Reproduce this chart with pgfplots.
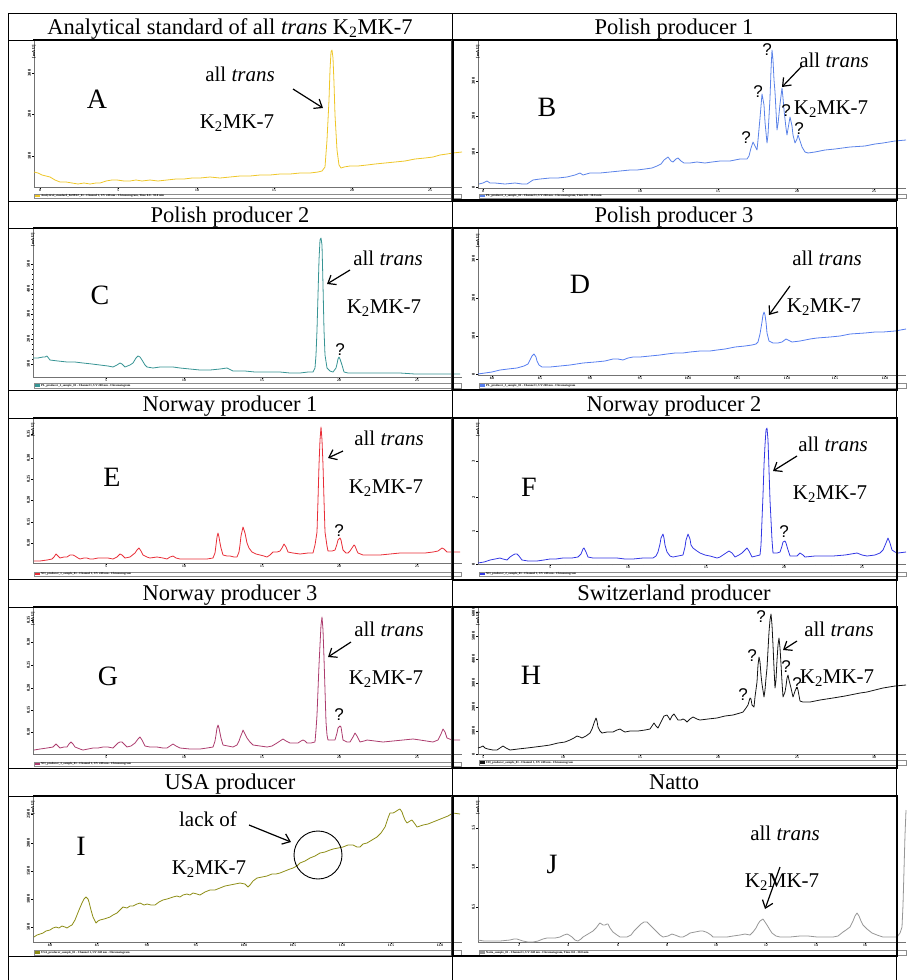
\documentclass[border=0pt]{standalone}
\usepackage{fontspec}
\setmainfont{Liberation Serif}
\setsansfont{Liberation Sans}
\usepackage{pgfplots}
\pgfplotsset{compat=1.18}
\usetikzlibrary{arrows.meta}

\definecolor{cA}{RGB}{238,198,40}
\definecolor{cB}{RGB}{90,130,232}
\definecolor{cC}{RGB}{55,148,148}
\definecolor{cD}{RGB}{85,125,240}
\definecolor{cE}{RGB}{232,45,55}
\definecolor{cF}{RGB}{50,55,228}
\definecolor{cG}{RGB}{172,60,110}
\definecolor{cH}{RGB}{20,20,20}
\definecolor{cI}{RGB}{140,140,20}
\definecolor{cJ}{RGB}{150,150,150}

\newcommand{\tickfont}{\fontsize{4.4}{4.4}\selectfont\bfseries}
\newcommand{\xtickfont}{\fontsize{3.6}{3.6}\selectfont\bfseries}
\newcommand{\stripfont}{\fontsize{3}{3}\selectfont\bfseries}
\newcommand{\ann}{\fontsize{21}{21}\selectfont}
\newcommand{\lett}{\fontsize{28}{28}\selectfont}
\newcommand{\ttl}{\fontsize{22.5}{22.5}\selectfont}
\newcommand{\qm}{\fontsize{17}{17}\selectfont\sffamily}
\newcommand{\kmk}{K\textsubscript{2}MK-7}

\pgfplotsset{
  chrom/.style={scale only axis, anchor=south west, clip=false, y dir=reverse,
    axis x line*=bottom, axis y line*=left,
    axis line style={black!55, line width=0.5pt, -},
    tick align=outside, major tick length=2pt, minor tick length=1.2pt,
    every tick/.style={black, line width=0.6pt},
    minor x tick num=4, minor y tick num=4,
    xticklabel style={font=\xtickfont, inner sep=0.3pt},
    yticklabel style={font=\tickfont, rotate=90, anchor=south, inner sep=0.8pt}},
  trace/.style={line width=0.8pt, color=#1, no markers, line join=round}
}
\tikzset{ar/.style={-{Straight Barb[length=7pt,width=11pt]}, line width=1.2pt},
  mau/.style={font=\tickfont, rotate=90, anchor=east, inner sep=0pt, xshift=-4pt}}

\begin{document}
\begin{tikzpicture}
\useasboundingbox (0pt,0pt) rectangle (906pt,-980pt);

% ---------------- A
\begin{axis}[chrom, at={(34pt,-187pt)}, width=428pt, height=147pt,
  xmin=34, xmax=462, ymin=40, ymax=187,
  xtick={40,118,197,274,352,430}, xticklabels={0,5,10,15,20,25},
  ytick={73,114,156}, yticklabels={300,200,100}]
\addplot[trace=cA] coordinates {(34,172)(38,173)(42,175)(46,176)(50,177)(55,180)(60,182)(66,182)(72,183)(78,184)(84,183)(90,184)(96,183)(100,183)(106,181)(112,180)(117,180)(124,181)(130,181)(136,180)(142,181)(150,180)(158,181)(167,180)(176,179)(184,179)(192,178)(200,178)(210,177)(220,178)(230,177)(240,176)(250,176)(260,175)(270,175)(280,174)(290,174)(300,173)(310,173)(318,172)(322,171)(325,167)(327,140)(329,100)(330,70)(331,52)(332,50)(333,58)(334,83)(335,115)(337,150)(339,165)(341,168)(344,167)(350,166)(358,166)(367,165)(375,164)(385,163)(395,162)(405,161)(415,159)(425,158)(433,157)(440,155)(447,154)(453,153)(462,152)};
\node[mau] at (axis cs:34,41) {[mAU]};
\node[font=\lett, anchor=base] at (axis cs:97,108) {A};
\node[font=\ann, anchor=base] at (axis cs:240,81.5) {all \textit{trans}};
\node[font=\ann, anchor=base] at (axis cs:237,128) {\kmk};
\draw[ar] (axis cs:293,89) -- (axis cs:323,108);
\end{axis}

% ---------------- B
\begin{axis}[chrom, at={(478pt,-188pt)}, width=428pt, height=148pt,
  xmin=478, xmax=906, ymin=40, ymax=188,
  xtick={483,563,640,718,797,874}, xticklabels={0,5,10,15,20,25},
  ytick={81,116,152,187}, yticklabels={300,200,100,0}]
\addplot[trace=cB] coordinates {(479,184)(483,183)(487,181)(490,183)(495,183)(505,184)(515,183)(522,184)(527,184)(533,180)(540,179)(550,178)(558,178)(567,177)(575,175)(580,173)(583,175)(590,173)(600,173)(610,172)(620,171)(630,170)(637,170)(645,169)(652,168)(657,166)(661,164)(664,160)(668,157)(671,161)(673,162)(676,159)(678,158)(681,161)(684,163)(690,163)(697,162)(705,163)(712,162)(720,161)(730,161)(740,159)(747,159)(749,156)(751,148)(753,142)(755,146)(757,150)(758,140)(760,118)(762,94)(764,105)(765,122)(767,143)(768,135)(770,98)(771,70)(772,50)(773,60)(774,80)(775,92)(777,130)(778,124)(780,104)(782,88)(783,98)(784,110)(786,128)(787,135)(789,123)(790,117)(792,126)(793,135)(795,143)(797,139)(798,135)(800,141)(802,147)(805,152)(808,153)(815,152)(825,150)(835,149)(850,147)(865,146)(875,144)(883,143)(895,141)(906,140)};
\node[mau] at (axis cs:478,41) {[mAU]};
\node[font=\lett, anchor=base] at (axis cs:547,116) {B};
\node[font=\ann, anchor=base] at (axis cs:834,67.5) {all \textit{trans}};
\node[font=\ann, anchor=base] at (axis cs:831,114) {\kmk};
\draw[ar] (axis cs:802,66) -- (axis cs:782,87);
\node[font=\qm] at (axis cs:746,138) {?};
\node[font=\qm] at (axis cs:758,92) {?};
\node[font=\qm] at (axis cs:767,50) {?};
\node[font=\qm] at (axis cs:786,111) {?};
\node[font=\qm] at (axis cs:799,129) {?};
\end{axis}

% ---------------- C
\begin{axis}[chrom, at={(33pt,-377pt)}, width=429pt, height=149pt,
  xmin=33, xmax=462, ymin=228, ymax=377,
  xtick={106,184,262,339,417}, xticklabels={5,10,15,20,25},
  ytick={264,289,314,339,364}, yticklabels={500,400,300,200,100}]
\addplot[trace=cC] coordinates {(33,358)(38,358)(43,357)(45,357)(47,356)(50,360)(58,361)(67,362)(75,362)(83,363)(92,364)(100,365)(108,366)(113,367)(117,365)(120,363)(122,364)(125,367)(130,365)(133,363)(136,358)(138,356)(140,357)(142,360)(145,365)(147,367)(153,368)(160,367)(167,367)(173,367)(180,368)(190,369)(200,370)(210,370)(220,369)(227,368)(233,371)(245,371)(255,372)(267,372)(280,372)(290,373)(300,373)(308,372)(313,372)(315,368)(316,355)(317,330)(318,295)(319,260)(320,240)(321,238)(322,245)(323,285)(324,330)(325,355)(327,368)(330,371)(333,372)(336,368)(337,364)(338,359)(339,357)(340,359)(342,365)(344,372)(348,373)(360,373)(375,373)(390,373)(400,373)(415,374)(430,374)(445,374)(460,374)};
\node[mau] at (axis cs:33,229) {[mAU]};
\node[font=\lett, anchor=base] at (axis cs:100,304) {C};
\node[font=\ann, anchor=base] at (axis cs:388,265.5) {all \textit{trans}};
\node[font=\ann, anchor=base] at (axis cs:384,313) {\kmk};
\draw[ar] (axis cs:350,270) -- (axis cs:327,284);
\node[font=\qm] at (axis cs:340,350) {?};
\end{axis}

% ---------------- D
\begin{axis}[chrom, at={(478pt,-375pt)}, width=428pt, height=146pt,
  xmin=478, xmax=906, ymin=229, ymax=375,
  xtick={492,540,590,640,688,737,787,835,885}, xticklabels={8.0,8.5,9.0,9.5,10.0,10.5,11.0,11.5,12.0},
  ytick={259,298,336,374}, yticklabels={300,200,100,0}]
\addplot[trace=cD] coordinates {(478,374)(485,373)(492,372)(500,370)(508,369)(517,368)(524,366)(528,364)(530,360)(532,356)(534,354)(536,357)(537,361)(539,365)(542,367)(550,367)(560,366)(570,365)(583,363)(595,362)(605,361)(613,359)(618,359)(623,360)(628,358)(633,357)(640,357)(650,356)(660,355)(667,354)(675,353)(683,353)(690,352)(700,351)(710,351)(717,350)(725,349)(735,347)(745,346)(752,345)(756,344)(758,342)(760,334)(762,322)(763,315)(764,312)(765,315)(766,322)(767,333)(769,341)(773,343)(778,343)(782,342)(786,339)(788,340)(792,342)(800,341)(810,339)(817,338)(830,337)(840,336)(850,334)(865,333)(875,332)(883,332)(895,331)(906,329)};
\node[mau] at (axis cs:478,230) {[mAU]};
\node[font=\lett, anchor=base] at (axis cs:580,293) {D};
\node[font=\ann, anchor=base] at (axis cs:827,265.5) {all \textit{trans}};
\node[font=\ann, anchor=base] at (axis cs:824,312) {\kmk};
\draw[ar] (axis cs:790,286) -- (axis cs:769,315);
\end{axis}

% ---------------- E
\begin{axis}[chrom, at={(33pt,-563pt)}, width=429pt, height=145pt,
  xmin=33, xmax=462, ymin=418, ymax=563,
  xtick={106,184,262,339,417}, xticklabels={5,10,15,20,25},
  ytick={434,458,479,500,522,543}, yticklabels={0.35,0.30,0.25,0.20,0.15,0.10}]
\addplot[trace=cE] coordinates {(34,561)(40,561)(47,560)(52,559)(54,557)(56,554)(58,556)(60,558)(64,557)(67,557)(70,555)(73,555)(75,556)(78,558)(80,559)(84,558)(87,558)(90,559)(93,559)(98,558)(103,558)(108,558)(113,559)(117,557)(120,554)(122,555)(125,558)(130,557)(135,553)(137,550)(139,548)(141,551)(143,555)(147,557)(150,558)(157,557)(163,558)(167,559)(170,557)(173,556)(176,558)(180,559)(190,559)(200,559)(207,559)(213,558)(215,553)(216,545)(217,537)(218,533)(219,537)(220,543)(221,548)(223,555)(227,556)(230,556)(234,557)(237,557)(239,552)(240,545)(241,536)(243,527)(245,533)(247,543)(249,548)(252,552)(256,554)(260,555)(264,556)(267,557)(270,555)(273,552)(277,552)(280,551)(282,548)(284,544)(286,547)(288,552)(293,553)(300,554)(308,553)(313,553)(315,545)(317,532)(318,500)(319,465)(320,440)(321,427)(322,440)(323,465)(324,500)(325,532)(327,546)(328,551)(332,551)(335,550)(337,544)(338,540)(340,538)(341,540)(343,550)(346,553)(348,553)(350,551)(352,548)(354,545)(355,546)(357,551)(358,553)(363,555)(367,555)(380,555)(390,554)(400,553)(415,553)(425,553)(433,552)(438,551)(442,548)(444,549)(447,552)(453,552)(460,552)};
\node[mau] at (axis cs:33,419) {[mAU]};
\node[font=\lett, anchor=base] at (axis cs:112,486.5) {E};
\node[font=\ann, anchor=base] at (axis cs:389,445.5) {all \textit{trans}};
\node[font=\ann, anchor=base] at (axis cs:386,493) {\kmk};
\draw[ar] (axis cs:343,451) -- (axis cs:328,458);
\node[font=\qm] at (axis cs:339,531) {?};
\end{axis}

% ---------------- F
\begin{axis}[chrom, at={(478pt,-564pt)}, width=428pt, height=146pt,
  xmin=478, xmax=906, ymin=418, ymax=564,
  xtick={550,628,706,784,862}, xticklabels={5,10,15,20,25},
  ytick={461,497,531,564}, yticklabels={3,2,1,0}]
\addplot[trace=cF] coordinates {(478,563)(484,562)(490,560)(495,559)(500,558)(503,559)(507,560)(510,557)(513,555)(515,554)(517,554)(519,556)(522,560)(528,561)(537,561)(544,560)(550,559)(556,559)(563,558)(567,558)(572,558)(578,557)(581,554)(583,549)(584,548)(586,552)(588,557)(593,558)(600,558)(608,558)(617,558)(625,559)(633,559)(643,558)(653,558)(656,556)(658,552)(660,544)(661,538)(663,534)(664,538)(665,545)(667,552)(670,556)(673,557)(678,556)(683,555)(685,547)(686,540)(688,534)(690,539)(691,545)(693,548)(697,551)(700,553)(705,555)(710,556)(717,558)(720,557)(723,555)(726,553)(729,551)(732,553)(735,557)(739,555)(742,553)(745,550)(747,548)(749,551)(752,557)(756,556)(760,555)(761,545)(762,520)(763,495)(764,465)(765,445)(766,430)(767,428)(768,440)(769,470)(770,500)(771,520)(772,540)(773,553)(777,553)(780,552)(782,546)(783,542)(785,541)(786,543)(788,550)(790,556)(795,556)(797,556)(800,553)(803,555)(805,557)(815,556)(825,556)(833,556)(845,555)(857,553)(862,555)(867,556)(875,555)(880,553)(883,550)(886,543)(888,538)(890,543)(892,550)(895,552)(898,553)(906,552)};
\node[mau] at (axis cs:478,419) {[mAU]};
\node[font=\lett, anchor=base] at (axis cs:529,496.5) {F};
\node[font=\ann, anchor=base] at (axis cs:833,451) {all \textit{trans}};
\node[font=\ann, anchor=base] at (axis cs:830,499) {\kmk};
\draw[ar] (axis cs:797,456) -- (axis cs:773,471);
\node[font=\qm] at (axis cs:784,532) {?};
\end{axis}

% ---------------- G
\begin{axis}[chrom, at={(33pt,-754pt)}, width=429pt, height=147pt,
  xmin=33, xmax=462, ymin=607, ymax=754,
  xtick={106,184,262,339,417}, xticklabels={5,10,15,20,25},
  ytick={620,642,665,688,710,732}, yticklabels={0.35,0.30,0.25,0.20,0.15,0.10}]
\addplot[trace=cG] coordinates {(34,750)(40,749)(47,748)(53,747)(55,745)(56,744)(58,746)(60,748)(64,747)(67,747)(69,744)(71,742)(73,744)(75,747)(80,749)(83,750)(88,749)(93,748)(98,748)(103,747)(108,747)(113,748)(116,745)(118,743)(120,742)(122,742)(125,745)(127,747)(131,746)(135,743)(138,739)(140,737)(142,740)(145,746)(150,747)(157,747)(163,748)(167,748)(170,746)(173,744)(176,746)(180,748)(190,749)(200,749)(207,748)(213,747)(215,741)(216,735)(217,728)(218,725)(219,728)(220,733)(221,738)(223,745)(228,746)(233,747)(237,745)(239,741)(240,738)(242,733)(243,730)(245,734)(247,738)(250,742)(253,745)(260,746)(267,747)(272,746)(277,743)(280,741)(283,739)(286,741)(290,743)(295,743)(298,743)(301,741)(303,740)(305,741)(307,743)(311,743)(315,742)(316,730)(317,715)(318,690)(319,665)(320,645)(321,625)(322,617)(323,630)(324,658)(325,690)(326,722)(327,735)(328,740)(332,740)(335,740)(337,733)(338,728)(340,726)(341,727)(343,740)(347,742)(350,742)(353,737)(355,733)(357,736)(360,742)(364,741)(367,740)(375,741)(383,742)(393,741)(403,740)(413,739)(420,740)(433,742)(438,740)(441,734)(443,729)(445,732)(447,738)(452,740)(460,740)};
\node[mau] at (axis cs:33,608) {[mAU]};
\node[font=\lett, anchor=base] at (axis cs:108,685) {G};
\node[font=\ann, anchor=base] at (axis cs:389,636.5) {all \textit{trans}};
\node[font=\ann, anchor=base] at (axis cs:386,684) {\kmk};
\draw[ar] (axis cs:351,642) -- (axis cs:328,657);
\node[font=\qm] at (axis cs:339,715) {?};
\end{axis}

% ---------------- H
\begin{axis}[chrom, at={(478pt,-754pt)}, width=428pt, height=147pt,
  xmin=478, xmax=906, ymin=607, ymax=754,
  xtick={483,563,640,718,797,874}, xticklabels={5,10,15,20,25,30},
  ytick={612,636,659,683,707,731,754}, yticklabels={6000,5000,4000,3000,2000,1000,0}]
\addplot[trace=cH] coordinates {(478,748)(481,747)(483,746)(485,748)(488,749)(493,750)(497,750)(500,748)(503,746)(506,748)(510,750)(518,749)(527,748)(535,747)(543,746)(550,745)(558,743)(565,742)(570,740)(574,738)(577,736)(580,737)(582,738)(586,736)(590,733)(592,729)(594,723)(596,718)(597,721)(598,727)(600,731)(602,733)(607,732)(613,732)(617,730)(620,729)(623,731)(625,732)(630,731)(638,731)(645,730)(650,729)(652,726)(654,723)(656,726)(658,728)(660,724)(662,720)(664,716)(667,715)(669,718)(670,720)(672,716)(674,714)(676,717)(678,720)(681,720)(683,719)(685,720)(687,722)(690,719)(693,717)(697,719)(700,720)(708,719)(717,718)(725,716)(733,715)(740,713)(743,712)(746,708)(748,705)(750,698)(751,699)(752,705)(754,707)(755,697)(757,682)(758,665)(759,657)(760,662)(761,675)(762,684)(764,697)(765,690)(766,678)(767,668)(768,650)(769,632)(770,620)(771,614)(772,625)(773,645)(774,668)(775,688)(776,680)(777,660)(778,645)(779,638)(780,648)(781,664)(782,682)(783,697)(785,692)(786,686)(787,678)(788,675)(789,680)(791,688)(793,697)(795,691)(797,687)(798,690)(800,701)(803,702)(810,702)(820,700)(833,698)(845,696)(850,695)(860,693)(867,692)(875,690)(883,688)(895,686)(906,685)};
\node[mau] at (axis cs:478,608) {[mAU]};
\node[font=\lett, anchor=base] at (axis cs:531,684) {H};
\node[font=\ann, anchor=base] at (axis cs:839,636.5) {all \textit{trans}};
\node[font=\ann, anchor=base] at (axis cs:837,683) {\kmk};
\draw[ar] (axis cs:797,641) -- (axis cs:783,650);
\node[font=\qm] at (axis cs:743,695) {?};
\node[font=\qm] at (axis cs:752,656) {?};
\node[font=\qm] at (axis cs:761,617) {?};
\node[font=\qm] at (axis cs:786,667) {?};
\node[font=\qm] at (axis cs:797,684) {?};
\end{axis}

% ---------------- I
\begin{axis}[chrom, at={(33pt,-942pt)}, width=429pt, height=146pt,
  xmin=33, xmax=462, ymin=796, ymax=942,
  xtick={50,97,147,196,244,293,342,391,440}, xticklabels={8.0,8.5,9.0,9.5,10.0,10.5,11.0,11.5,12.0},
  ytick={814,843,871,899,927}, yticklabels={2500,2000,1500,1000,500}]
\addplot[trace=cI] coordinates {(34,937)(37,935)(40,934)(43,933)(46,931)(50,930)(53,928)(56,927)(59,928)(62,926)(65,927)(67,928)(70,926)(72,925)(75,920)(77,915)(79,910)(82,903)(84,899)(86,897)(88,899)(89,902)(91,910)(93,917)(95,921)(96,923)(98,921)(100,920)(104,919)(107,918)(110,917)(113,915)(117,913)(120,910)(123,907)(127,908)(130,906)(133,906)(137,904)(140,903)(144,905)(147,904)(151,905)(155,905)(159,902)(163,900)(167,899)(170,898)(173,897)(177,896)(180,897)(183,895)(187,894)(190,895)(193,893)(197,894)(200,895)(205,892)(210,890)(215,890)(220,888)(225,886)(230,885)(235,884)(240,883)(245,884)(248,887)(250,885)(253,881)(257,878)(262,877)(267,876)(272,874)(276,874)(280,873)(285,871)(290,869)(293,868)(297,866)(300,863)(305,861)(310,858)(315,856)(320,853)(325,852)(330,850)(333,849)(338,848)(343,847)(348,845)(353,845)(357,847)(360,847)(363,844)(367,843)(372,840)(377,837)(381,833)(385,827)(388,818)(390,813)(393,813)(395,812)(398,810)(400,809)(402,812)(403,815)(405,820)(407,823)(410,821)(412,820)(415,824)(417,827)(420,826)(423,825)(428,824)(433,822)(438,820)(443,818)(448,816)(453,813)(460,814)};
\node[mau] at (axis cs:33,797) {[mAU]};
\node[font=\lett, anchor=base] at (axis cs:81,855) {I};
\node[font=\ann, anchor=base] at (axis cs:208,826) {lack of};
\node[font=\ann, anchor=base] at (axis cs:209,874) {\kmk};
\draw[ar] (axis cs:249,825) -- (axis cs:291,842);
\draw[line width=0.9pt] (axis cs:318,855) circle[radius=24pt];
\end{axis}

% ---------------- J
\begin{axis}[chrom, at={(478pt,-942pt)}, width=428pt, height=146pt,
  xmin=478, xmax=906, ymin=796, ymax=942,
  xtick={519,568,618,667,716,766,816,865}, xticklabels={2,4,6,8,10,12,14,16},
  ytick={828,867,907}, yticklabels={1.5,1.0,0.5}]
\addplot[trace=cJ] coordinates {(478,940)(484,941)(490,941)(500,941)(510,940)(514,939)(517,939)(520,940)(523,941)(528,942)(533,942)(538,941)(543,939)(547,938)(550,938)(555,938)(560,937)(564,935)(567,934)(569,935)(572,937)(575,940)(578,941)(581,939)(583,937)(588,934)(593,931)(596,928)(599,924)(600,923)(603,925)(605,925)(607,924)(608,924)(610,928)(613,932)(617,935)(620,937)(627,937)(631,935)(634,931)(637,928)(641,924)(644,922)(647,922)(650,925)(653,928)(657,932)(660,935)(663,937)(668,936)(672,934)(675,935)(680,937)(683,937)(687,935)(690,933)(695,932)(700,931)(703,931)(706,932)(708,933)(711,935)(713,937)(720,937)(727,937)(733,936)(740,935)(745,934)(750,935)(753,932)(756,928)(758,924)(760,921)(763,919)(765,922)(767,925)(770,930)(772,933)(776,936)(780,937)(790,937)(800,936)(808,936)(817,937)(825,937)(833,937)(838,936)(843,932)(846,930)(850,927)(853,921)(855,916)(857,913)(859,916)(861,921)(863,925)(867,929)(872,933)(877,935)(883,937)(890,937)(897,937)(900,933)(902,927)(903,905)(904,870)(905,835)(906,810)};
\node[mau] at (axis cs:478,797) {[mAU]};
\node[font=\lett, anchor=base] at (axis cs:552,873) {J};
\node[font=\ann, anchor=base] at (axis cs:785,840.5) {all \textit{trans}};
\node[font=\ann, anchor=base] at (axis cs:782,887) {\kmk};
\draw[ar] (axis cs:780,867) -- (axis cs:765,909);
\end{axis}

% ---------------- legend strips, frames, table
\begin{scope}[x=1pt, y=-1pt]
\newcommand{\strip}[4]{%
  \draw[black!45, line width=0.4pt] (#1,#2) rectangle ++(427,4.2);
  \fill[#3] (#1+0.8,#2+0.9) rectangle ++(5,2.4);
  \node[anchor=west, font=\stripfont, inner sep=0pt] at (#1+7,#2+2.1) {#4};}
\strip{34}{193.8}{cA}{Analytical\_standard\_K2MK7\_01 - Channel 1, UV 248 nm - Chromatogram, Time 0.0 - 30.0 min}
\strip{479}{194}{cB}{PL\_producer\_1\_sample\_02 - Channel 1, UV 248 nm - Chromatogram, Time 0.0 - 30.0 min}
\strip{34}{383.5}{cC}{PL\_producer\_2\_sample\_01 - Channel 1, UV 248 nm - Chromatogram}
\strip{479}{383.5}{cD}{PL\_producer\_3\_sample\_01 - Channel 1, UV 248 nm - Chromatogram}
\strip{34}{572}{cE}{NO\_producer\_1\_sample\_01 - Channel 1, UV 248 nm - Chromatogram}
\strip{479}{572}{cF}{NO\_producer\_2\_sample\_01 - Channel 1, UV 248 nm - Chromatogram}
\strip{34}{762}{cG}{NO\_producer\_3\_sample\_01 - Channel 1, UV 248 nm - Chromatogram}
\strip{479}{760.5}{cH}{CH\_producer\_sample\_01 - Channel 1, UV 248 nm - Chromatogram}
\strip{34}{950.5}{cI}{USA\_producer\_sample\_01 - Channel 1, UV 248 nm - Chromatogram}
\strip{479}{950.5}{cJ}{Natto\_sample\_01 - Channel 1, UV 248 nm - Chromatogram, Time 0.0 - 30.0 min}

% table grid
\draw[line width=0.6pt] (8,13) -- (896,13);
\foreach \yy in {40,201,228,390,418,579,607,768,796,956}
  \draw[line width=0.6pt] (8,\yy) -- (896,\yy);
\foreach \xx in {8,452,896}
  \draw[line width=0.6pt] (\xx,13) -- (\xx,980);
% image frames
\foreach \ta/\tb in {40/201,228/390,418/579,607/768,796/956}{
  \draw[line width=1.5pt] (33,\ta) -- (452,\ta);
  \draw[black!75, line width=1.5pt] (452,\ta) -- (452,\tb);
}
\draw[line width=1.6pt] (453,40) rectangle (897,200);
\draw[line width=1.6pt] (453,228) rectangle (897,390);
\draw[line width=1.6pt] (453,418) rectangle (897,580);
\draw[line width=1.6pt] (453,607) rectangle (897,768);
\draw[line width=1.6pt] (453,796) rectangle (897,956);

% titles
\node[font=\ttl, anchor=base] at (230,34) {Analytical standard of all \textit{trans} \kmk};
\node[font=\ttl, anchor=base] at (674,34) {Polish producer 1};
\node[font=\ttl, anchor=base] at (230,222) {Polish producer 2};
\node[font=\ttl, anchor=base] at (674,222) {Polish producer 3};
\node[font=\ttl, anchor=base] at (230,411) {Norway producer 1};
\node[font=\ttl, anchor=base] at (674,411) {Norway producer 2};
\node[font=\ttl, anchor=base] at (230,600) {Norway producer 3};
\node[font=\ttl, anchor=base] at (674,600) {Switzerland producer};
\node[font=\ttl, anchor=base] at (230,789) {USA producer};
\node[font=\ttl, anchor=base] at (674,789) {Natto};
\end{scope}
\end{tikzpicture}
\end{document}
